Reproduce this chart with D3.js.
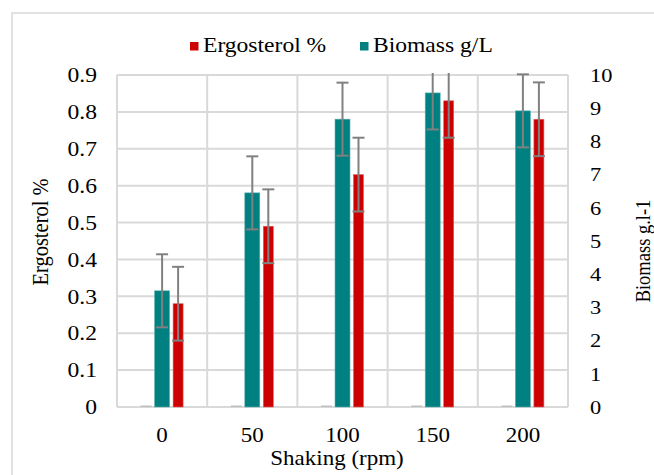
<!DOCTYPE html>
<html lang="en">
<head>
  <meta charset="UTF-8">
  <title>Ergosterol and biomass vs shaking</title>
  <style>
    body { margin: 0; background: #fff; }
    text { font-family: 'Liberation Serif', 'Times New Roman', 'DejaVu Serif', serif; }
  </style>
</head>
<body>
  <svg class="chart"></svg>
  <script src="https://cdn.jsdelivr.net/npm/d3@7"></script>
  <script>
    // data
    var categories = ["0", "50", "100", "150", "200"];
    var ergosterol = [0.28, 0.49, 0.63, 0.83, 0.78];
    var ergosterolErr = [0.1, 0.1, 0.1, 0.1, 0.1];
    var biomass = [3.5, 6.45, 8.67, 9.46, 8.92];
    var biomassErr = [1.1, 1.1, 1.1, 1.1, 1.1];
    var emptySeries = [0, 0, 0, 0, 0];
    var leftTicks = [0, 0.1, 0.2, 0.3, 0.4, 0.5, 0.6, 0.7, 0.8, 0.9];
    var rightTicks = [0, 1, 2, 3, 4, 5, 6, 7, 8, 9, 10];

    var width = 654, height = 475;
    var plot = { left: 117, right: 568, top: 75, bottom: 407 };
    var sx = 1.15; // picture is stretched sideways a bit
    var teal = "#008080", red = "#cc0000", grid = "#d9d9d9", errColor = "#808080";
    var serif = "Liberation Serif, Times New Roman, DejaVu Serif, serif";

    var svg = d3.select("svg").attr("width", width).attr("height", height);

    // outer chart border
    svg.append("rect")
      .attr("x", 12).attr("y", 13)
      .attr("width", 700).attr("height", 500)
      .attr("fill", "none").attr("stroke", grid).attr("stroke-width", 1.5);

    var x = d3.scaleBand().domain(categories).range([plot.left, plot.right]);
    var inner = d3.scaleBand().domain(["empty", "biomass", "ergo"]).range([-24, 24]);
    var yL = d3.scaleLinear().domain([0, 0.9]).range([plot.bottom, plot.top]);
    var yR = d3.scaleLinear().domain([0, 10]).range([plot.bottom, plot.top]);

    function center(c) { return x(c) + x.bandwidth() / 2; }
    function slot(name) { return inner(name) + inner.bandwidth() / 2; }

    // gridlines
    svg.append("g").selectAll("line")
      .data(leftTicks)
      .enter().append("line")
      .attr("x1", plot.left).attr("x2", plot.right)
      .attr("y1", d => yL(d)).attr("y2", d => yL(d))
      .attr("stroke", grid).attr("stroke-width", 2);

    var bounds = categories.map(c => x(c)).concat([plot.right]);
    svg.append("g").selectAll("line")
      .data(bounds)
      .enter().append("line")
      .attr("x1", d => d).attr("x2", d => d)
      .attr("y1", plot.top).attr("y2", plot.bottom)
      .attr("stroke", grid).attr("stroke-width", 2);

    svg.append("clipPath").attr("id", "plotclip")
      .append("rect")
      .attr("x", plot.left - 5).attr("y", plot.top - 2)
      .attr("width", plot.right - plot.left + 10).attr("height", plot.bottom - plot.top + 4);

    // empty series (just a hairline at zero)
    svg.append("g").selectAll("rect")
      .data(emptySeries)
      .enter().append("rect")
      .attr("x", (d, i) => center(categories[i]) + slot("empty") - 5.5)
      .attr("y", d => yL(d) - 1.5)
      .attr("width", 11)
      .attr("height", 1.5)
      .attr("fill", "#bfbfbf");

    // biomass bars (right axis)
    svg.append("g").selectAll("rect")
      .data(biomass)
      .enter().append("rect")
      .attr("x", (d, i) => center(categories[i]) + slot("biomass") - 7.5)
      .attr("y", d => yR(d))
      .attr("width", 15)
      .attr("height", d => yR(0) - yR(d))
      .attr("fill", teal)
      .attr("stroke", "#5fb0b0").attr("stroke-width", 0.6);

    // ergosterol bars (left axis)
    svg.append("g").selectAll("rect")
      .data(ergosterol)
      .enter().append("rect")
      .attr("x", (d, i) => center(categories[i]) + slot("ergo") - 5)
      .attr("y", d => yL(d))
      .attr("width", 10)
      .attr("height", d => yL(0) - yL(d))
      .attr("fill", red)
      .attr("stroke", "#e06060").attr("stroke-width", 0.6);

    // error bars
    function errorBars(vals, errs, scale, name) {
      var g = svg.append("g").attr("clip-path", "url(#plotclip)");
      var items = vals.map((v, i) => ({
        cx: center(categories[i]) + slot(name),
        hi: scale(v + errs[i]),
        lo: scale(v - errs[i])
      }));
      g.selectAll(".stem").data(items).enter().append("line")
        .attr("x1", d => d.cx).attr("x2", d => d.cx)
        .attr("y1", d => d.hi).attr("y2", d => d.lo)
        .attr("stroke", errColor).attr("stroke-width", 2);
      g.selectAll(".capHi").data(items).enter().append("line")
        .attr("x1", d => d.cx - 6).attr("x2", d => d.cx + 6)
        .attr("y1", d => d.hi).attr("y2", d => d.hi)
        .attr("stroke", errColor).attr("stroke-width", 2);
      g.selectAll(".capLo").data(items).enter().append("line")
        .attr("x1", d => d.cx - 6).attr("x2", d => d.cx + 6)
        .attr("y1", d => d.lo).attr("y2", d => d.lo)
        .attr("stroke", errColor).attr("stroke-width", 2);
    }
    errorBars(biomass, biomassErr, yR, "biomass");
    errorBars(ergosterol, ergosterolErr, yL, "ergo");

    // text helper, stretched sideways like the picture
    function label(parent, tx, ty, str, size, anchor, rotate) {
      return parent.append("text")
        .attr("transform", "translate(" + tx + "," + ty + ") scale(" + sx + ",1)" + (rotate ? " rotate(-90)" : ""))
        .attr("text-anchor", anchor)
        .attr("font-family", serif)
        .attr("font-size", size)
        .attr("fill", "#000")
        .text(str);
    }

    // left axis labels
    var lg = svg.append("g");
    leftTicks.forEach(function (t) {
      label(lg, 97, yL(t), t === 0 ? "0" : t.toFixed(1), 20.5, "end").attr("dy", "0.35em");
    });

    // right axis labels
    var rg = svg.append("g");
    rightTicks.forEach(function (t) {
      label(rg, 590, yR(t), String(t), 19.5, "start").attr("dy", "0.35em");
    });

    // category labels
    var cg = svg.append("g");
    categories.forEach(function (c) {
      label(cg, center(c), 442, c, 20, "middle");
    });

    // axis titles
    label(svg, 337, 465, "Shaking (rpm)", 20, "middle");
    label(svg, 48, 232, "Ergosterol %", 20.5, "middle", true);
    label(svg, 650, 251, "Biomass g.l-1", 18.5, "middle", true);

    // legend
    var legend = [
      { name: "Ergosterol %", color: red, x: 190 },
      { name: "Biomass g/L", color: teal, x: 360 }
    ];
    var lgd = svg.append("g");
    lgd.selectAll("rect").data(legend).enter().append("rect")
      .attr("x", d => d.x).attr("y", 42)
      .attr("width", 8.5).attr("height", 8.5)
      .attr("fill", d => d.color);
    legend.forEach(function (d) {
      label(lgd, d.x + 13, 51.5, d.name, 20.5, "start");
    });
  </script>
</body>
</html>
